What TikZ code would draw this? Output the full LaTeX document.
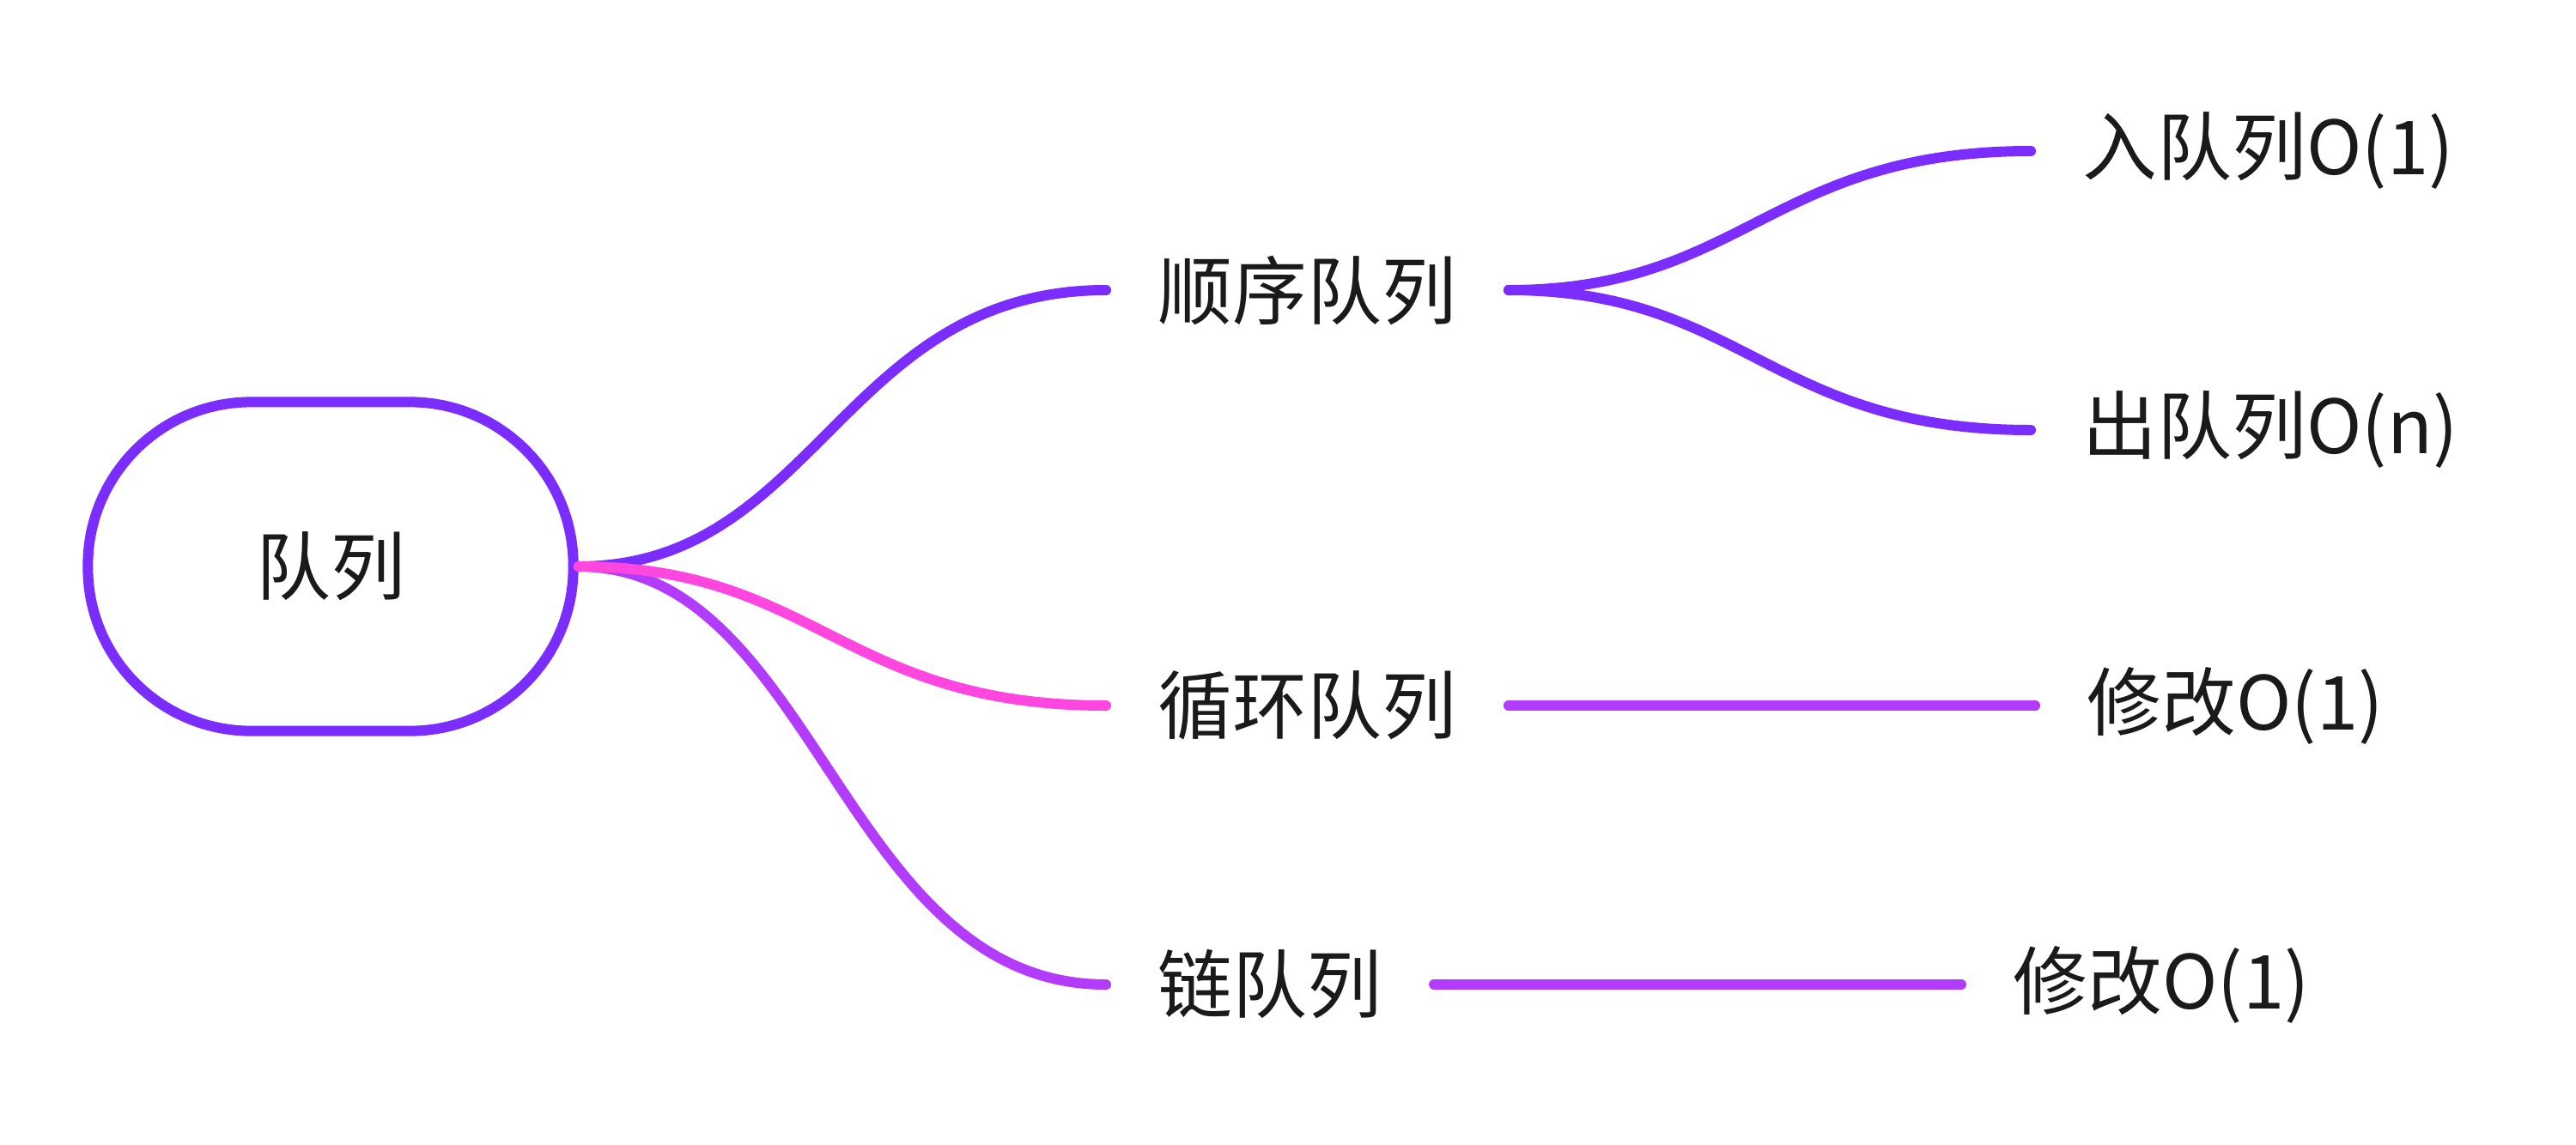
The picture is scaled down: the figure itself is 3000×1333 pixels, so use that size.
\documentclass[tikz,border=0pt]{standalone}
\usepackage{fontspec}
\setmainfont{Noto Sans CJK SC}
\usetikzlibrary{calc}
\definecolor{cPurple}{HTML}{7B2CFF}
\definecolor{cPink}{HTML}{FF47E0}
\definecolor{cViolet}{HTML}{B33BFC}
\definecolor{cText}{HTML}{1A1A1A}
\begin{document}
\begin{tikzpicture}[x=0.01cm,y=-0.01cm,
  every node/.style={font=\fontsize{24.7pt}{30pt}\selectfont, text=cText},
  topic/.style={inner xsep=0.6cm, inner ysep=0pt, anchor=west},
  branch/.style={line width=0.12cm, line cap=round},
  curv/.style={to path={let \p1=(\tikztostart), \p2=(\tikztotarget) in
     .. controls ({0.55*\x1+0.45*\x2},\y1) and ({0.5*\x1+0.5*\x2},\y2) .. (\tikztotarget)}}]
\fill[white] (0,0) rectangle (3000,1333);
\useasboundingbox (0,0) rectangle (3000,1333);

\node[draw=cPurple, line width=0.12cm, rounded corners=1.9cm,
      minimum width=5.65cm, minimum height=3.83cm, inner sep=0pt] (root) at (385,660) {队列};

\node[topic] (seq)  at (1288,338)  {顺序队列};
\node[topic] (cir)  at (1288,822)  {循环队列};
\node[topic] (lnk)  at (1288,1147) {链队列};
\node[topic] (enq)  at (2365,176)  {入队列O(1)};
\node[topic] (deq)  at (2365,501)  {出队列O(n)};
\node[topic] (mod1) at (2370,822)  {修改O(1)};
\node[topic] (mod2) at (2284,1147) {修改O(1)};

\draw[branch, cViolet] (root.east) to[curv] (lnk.west);
\draw[branch, cPurple] (root.east) to[curv] (seq.west);
\draw[branch, cPink]   (root.east) to[curv] (cir.west);
\draw[branch, cPurple] (seq.east) to[curv] (enq.west);
\draw[branch, cPurple] (seq.east) to[curv] (deq.west);
\draw[branch, cViolet] (cir.east) -- (mod1.west);
\draw[branch, cViolet] (lnk.east) -- (mod2.west);
\end{tikzpicture}
\end{document}
